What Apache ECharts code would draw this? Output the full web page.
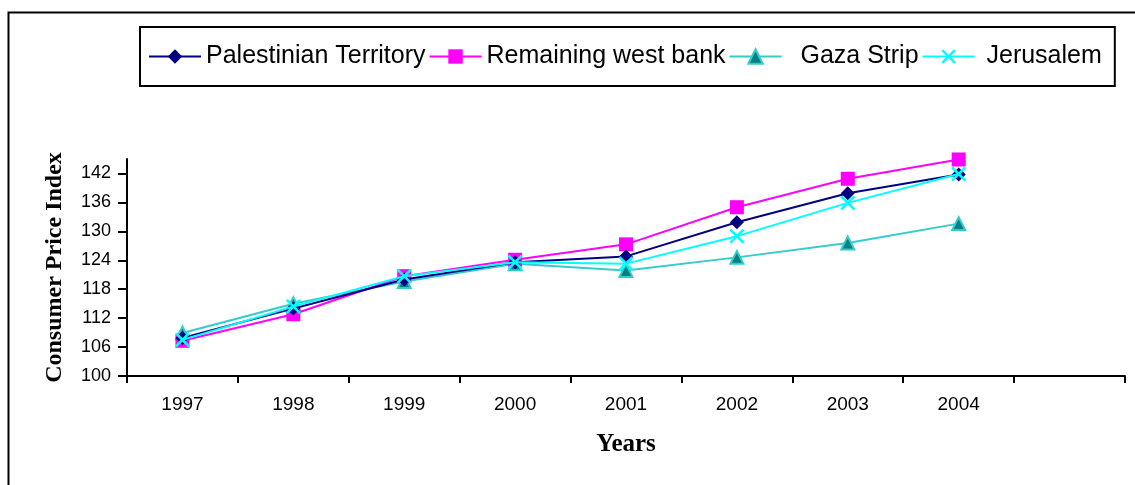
<!DOCTYPE html>
<html>
<head>
<meta charset="utf-8">
<script src="https://cdn.jsdelivr.net/npm/echarts@6/dist/echarts.min.js"></script>
<style>
html,body{margin:0;padding:0;background:#fff;}
#chart{width:1135px;height:485px;}
</style>
</head>
<body>
<div id="chart"></div>
<script>
var years = ['1997','1998','1999','2000','2001','2002','2003','2004',''];
var palestinianTerritory = [107.9, 114.0, 120.0, 123.6, 124.8, 131.9, 137.9, 141.8];
var remainingWestBank   = [107.3, 112.8, 120.7, 124.1, 127.3, 135.0, 140.9, 144.9];
var gazaStrip           = [108.9, 115.0, 119.6, 123.3, 121.9, 124.6, 127.6, 131.6];
var jerusalem           = [107.5, 114.4, 120.7, 123.6, 123.3, 129.0, 135.9, 141.9];
var yTicks = [100, 106, 112, 118, 124, 130, 136, 142];
var legendPrefix = {'Palestinian Territory':'', 'Remaining west bank':'', 'Gaza Strip':'  ', 'Jerusalem':' '};

var xSymbol = 'path://M0,1.2L1.2,0L5,3.8L8.8,0L10,1.2L6.2,5L10,8.8L8.8,10L5,6.2L1.2,10L0,8.8L3.8,5Z';

var chart = echarts.init(document.getElementById('chart'), null, {renderer:'canvas'});
chart.setOption({
  animation: false,
  backgroundColor: '#fff',
  graphic: [{
    type: 'rect', z: 100, silent: true,
    shape: {x: 8.5, y: 12.5, width: 1140, height: 480},
    style: {fill: 'none', stroke: '#000', lineWidth: 2}
  }],
  legend: {
    left: 140, top: 27,
    padding: [17, 13, 17, 8],
    borderColor: '#000', borderWidth: 2,
    itemWidth: 52, itemHeight: 18, itemGap: 3,
    textStyle: {fontFamily: 'Liberation Sans', fontSize: 25, color: '#000'},
    formatter: function(n){ return legendPrefix[n] + n; },
    data: ['Palestinian Territory','Remaining west bank','Gaza Strip','Jerusalem']
  },
  grid: {left: 127, right: 10, top: 159, bottom: 109, containLabel: false},
  xAxis: {
    type: 'category', data: years, boundaryGap: true,
    name: 'Years', nameLocation: 'middle', nameGap: 56,
    nameTextStyle: {fontFamily: 'Liberation Serif', fontWeight: 'bold', fontSize: 25, color: '#000'},
    axisLine: {lineStyle: {color: '#000', width: 2}},
    axisTick: {show: true, length: 7, alignWithLabel: false, lineStyle: {color: '#000', width: 2}},
    axisLabel: {fontFamily: 'Liberation Sans', fontSize: 19, color: '#000', margin: 19, interval: 0},
    splitLine: {show: false}
  },
  yAxis: {
    type: 'value', min: 100, max: 145, interval: 6,
    name: 'Consumer Price Index', nameLocation: 'middle', nameGap: 60, nameRotate: 90,
    nameTextStyle: {fontFamily: 'Liberation Serif', fontWeight: 'bold', fontSize: 24, color: '#000'},
    axisLine: {show: true, lineStyle: {color: '#000', width: 2}},
    axisTick: {show: true, length: 9, customValues: yTicks, lineStyle: {color: '#000', width: 2}},
    axisLabel: {fontFamily: 'Liberation Sans', fontSize: 18, color: '#000', margin: 16, customValues: yTicks},
    splitLine: {show: false}
  },
  series: [
    {name: 'Palestinian Territory', type: 'line', data: palestinianTerritory,
     symbol: 'diamond', symbolSize: 14,
     itemStyle: {color: '#000080'}, lineStyle: {color: '#000080', width: 2}, z: 4},
    {name: 'Remaining west bank', type: 'line', data: remainingWestBank,
     symbol: 'rect', symbolSize: 14,
     itemStyle: {color: '#FF00FF'}, lineStyle: {color: '#FF00FF', width: 2}, z: 3},
    {name: 'Gaza Strip', type: 'line', data: gazaStrip,
     symbol: 'triangle', symbolSize: 13,
     itemStyle: {color: '#008080', borderColor: '#33CCCC', borderWidth: 2}, lineStyle: {color: '#33CCCC', width: 2}, z: 2},
    {name: 'Jerusalem', type: 'line', data: jerusalem,
     symbol: xSymbol, symbolSize: 15,
     itemStyle: {color: '#00FFFF'}, lineStyle: {color: '#00FFFF', width: 2}, z: 5}
  ]
});
</script>
</body>
</html>
